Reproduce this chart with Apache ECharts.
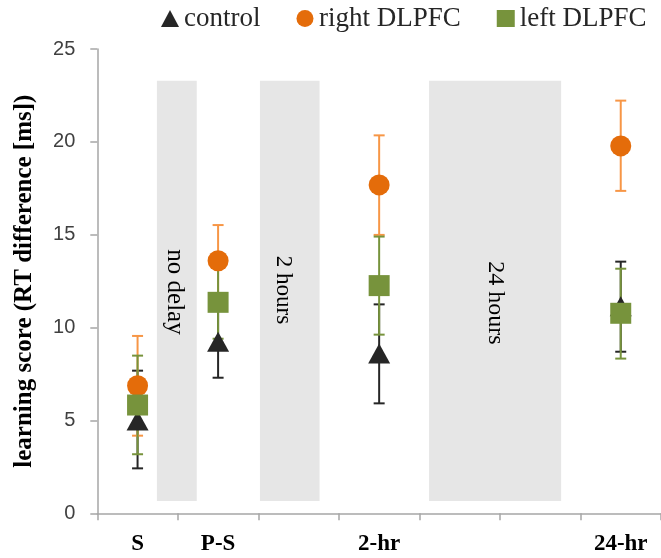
<!DOCTYPE html>
<html><head><meta charset="utf-8">
<script src="https://cdn.jsdelivr.net/npm/echarts@6/dist/echarts.min.js"></script>
<style>html,body{margin:0;padding:0;background:#fff}#c{width:661px;height:558px}</style>
</head><body><div id="c"></div>
<script>
// ---- data ----
const categories = ['S', 'P-S', '', '2-hr', '', '', '24-hr'];
const xPos = [0.5, 1.5, 3.5, 6.5];
const controlMean = [5.0, 9.24, 8.6, 11.15];
const controlLow  = [2.42, 7.30, 5.92, 8.70];
const controlHigh = [7.68, 11.1, 11.25, 13.55];
const rightMean = [6.87, 13.6, 17.68, 19.78];
const rightLow  = [4.18, 11.68, 14.99, 17.36];
const rightHigh = [9.55, 15.52, 20.35, 22.22];
const leftMean = [5.83, 11.36, 12.26, 10.77];
const leftLow  = [3.18, 9.4, 9.62, 8.33];
const leftHigh = [8.49, 13.3, 14.9, 13.17];
const bandStart = [0.74, 2.02, 4.12];
const bandEnd   = [1.235, 2.76, 5.76];
const bandTop = 23.29, bandBottom = 0.66;
const bandLabels = ['no delay', '2 hours', '24 hours'];

const serif = '"Liberation Serif", "Times New Roman", serif';
const axisGray = '#a6a6a6';

function errSeries(low, high, color) {
  return {
    type: 'custom', silent: true, z: 2, xAxisIndex: 0, yAxisIndex: 0,
    data: xPos.map((x, i) => [x, low[i], high[i]]),
    encode: { x: 0, y: [1, 2] },
    renderItem(params, api) {
      const x = api.value(0);
      const p1 = api.coord([x, api.value(1)]);
      const p2 = api.coord([x, api.value(2)]);
      const w = 5.5;
      const style = { stroke: color, lineWidth: 2 };
      return { type: 'group', children: [
        { type: 'line', shape: { x1: p1[0], y1: p1[1], x2: p2[0], y2: p2[1] }, style },
        { type: 'line', shape: { x1: p1[0] - w, y1: p1[1], x2: p1[0] + w, y2: p1[1] }, style },
        { type: 'line', shape: { x1: p2[0] - w, y1: p2[1], x2: p2[0] + w, y2: p2[1] }, style }
      ]};
    }
  };
}

function markerSeries(name, mean, symbol, size, color) {
  return {
    type: 'scatter', name, z: 3, xAxisIndex: 0, yAxisIndex: 0,
    symbol, symbolSize: size,
    itemStyle: { color, opacity: 1 },
    data: xPos.map((x, i) => [x, mean[i]])
  };
}

function bandText(text, x, y, size) {
  return { type: 'text', x, y, rotation: -Math.PI / 2, z: 5,
    style: { text, font: size + 'px ' + serif, fill: '#000', textAlign: 'center', textVerticalAlign: 'middle' } };
}

const chart = echarts.init(document.getElementById('c'), null, { renderer: 'canvas' });
chart.setOption({
  animation: false,
  backgroundColor: '#fff',
  grid: { left: 97.3, top: 49, width: 573.65, height: 464.3 },
  legend: {
    data: ['control', 'right DLPFC', 'left DLPFC'],
    left: 156, top: 0, width: 520, itemGap: 36, itemWidth: 18, itemHeight: 17,
    textStyle: { fontFamily: serif, fontSize: 27, color: '#262626' }
  },
  xAxis: [{
    type: 'value', min: 0, max: 7, interval: 1,
    axisLine: { show: true, lineStyle: { color: axisGray, width: 1.5 } },
    axisTick: { show: true, length: 7, lineStyle: { color: axisGray, width: 1.5 } },
    axisLabel: { show: false }, splitLine: { show: false }
  }, {
    type: 'category', data: categories, boundaryGap: true, position: 'bottom',
    axisLine: { show: false }, axisTick: { show: false }, splitLine: { show: false },
    axisLabel: { interval: 0, margin: 19, fontFamily: serif, fontWeight: 'bold', fontSize: 23, color: '#000' }
  }],
  yAxis: {
    type: 'value', min: 0, max: 25, interval: 5,
    name: 'learning score (RT difference [ms])', nameLocation: 'middle', nameGap: 60,
    nameTextStyle: { fontFamily: serif, fontWeight: 'bold', fontSize: 25, color: '#000' },
    axisLine: { show: true, lineStyle: { color: axisGray, width: 1.5 } },
    axisTick: { show: true, length: 7, lineStyle: { color: axisGray, width: 1.5 } },
    axisLabel: { fontFamily: '"Liberation Sans", Arial, sans-serif', fontSize: 20, color: '#404040', margin: 22 },
    splitLine: { show: false }
  },
  series: [
    {
      type: 'scatter', data: [], z: 1, silent: true,
      markArea: {
        silent: true,
        itemStyle: { color: '#e6e6e6' },
        label: { show: false },
        data: bandStart.map((s, i) => [{ xAxis: s, yAxis: bandBottom }, { xAxis: bandEnd[i], yAxis: bandTop }])
      }
    },
    errSeries(controlLow, controlHigh, '#262626'),
    errSeries(rightLow, rightHigh, '#F79646'),
    errSeries(leftLow, leftHigh, '#77933C'),
    markerSeries('control', controlMean, 'triangle', [22, 20], '#262626'),
    markerSeries('right DLPFC', rightMean, 'circle', 21, '#E46C0A'),
    markerSeries('left DLPFC', leftMean, 'rect', 21, '#77933C')
  ],
  graphic: [
    bandText(bandLabels[0], 175, 292, 25),
    bandText(bandLabels[1], 283, 290, 23),
    bandText(bandLabels[2], 495, 303, 24)
  ]
});
</script></body></html>
